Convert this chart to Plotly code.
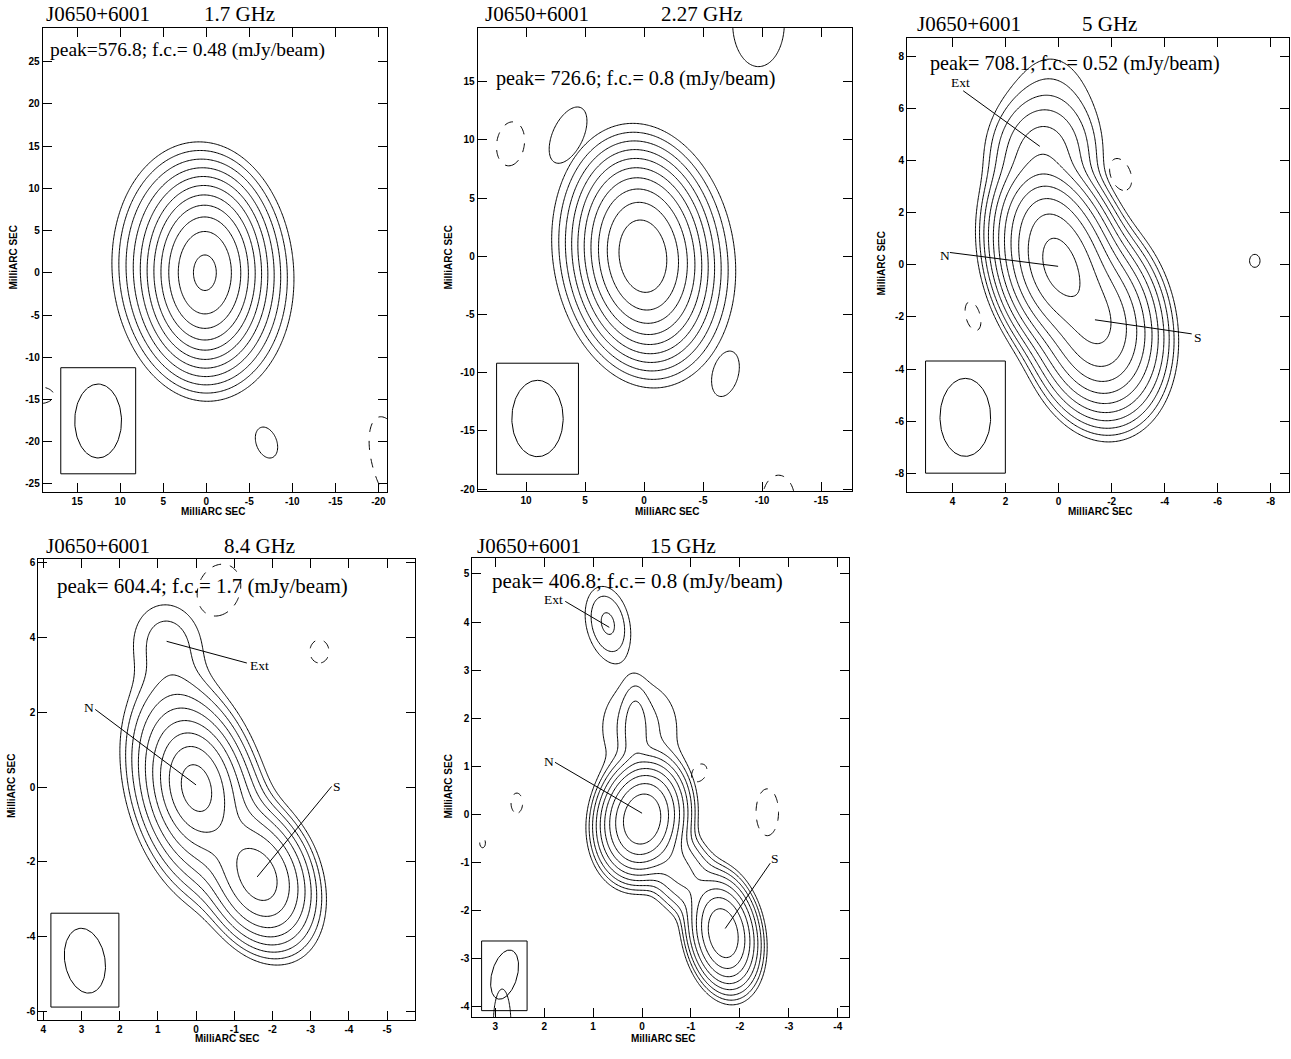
import numpy as np
import plotly.graph_objects as go

W, H = 1291, 1059
SOURCE = "J0650+6001"

# ---------------- observing bands ----------------
freq_labels = ["1.7 GHz", "2.27 GHz", "5 GHz", "8.4 GHz", "15 GHz"]
peak_mjy = [576.8, 726.6, 708.1, 604.4, 406.8]
first_contour_mjy = [0.48, 0.8, 0.52, 1.7, 0.8]

# restoring beams: FWHM major / minor (mas), position angle (deg)
beam_maj = [8.75, 6.56, 2.99, 1.75, 1.05]
beam_min = [5.43, 4.35, 1.91, 1.05, 0.52]
beam_pa = [0, 0, 0, 10, -15]

# ---------------- Gaussian source models ----------------
# RA offset, Dec offset (mas), flux (mJy/beam), FWHM along / across PA (mas), PA (deg)
c17_ra = [0.15, 0.4]
c17_dec = [0.0, 0.2]
c17_flux = [530, 45]
c17_maj = [8.6, 11.8]
c17_min = [5.4, 8.2]
c17_pa = [0, 5]

c22_ra = [0.1, 0.0]
c22_dec = [0.0, 0.1]
c22_flux = [705, 21]
c22_maj = [6.8, 9.9]
c22_min = [4.36, 6.9]
c22_pa = [7, 10]

c50_ra = [0.0, -1.45, 0.45, -0.7, 0.6, 0.3]
c50_dec = [0.05, -2.3, 1.8, -1.1, 4.2, 5.5]
c50_flux = [640, 280, 55, 40, 12, 1.3]
c50_maj = [3.0, 3.0, 2.0, 2.5, 2.4, 4.0]
c50_min = [1.85, 2.0, 1.6, 1.8, 2.0, 2.4]
c50_pa = [15, 10, 10, 35, 0, 0]

c84_ra = [0.0, 0.0, -1.65, -0.8, 0.75, 0.5]
c84_dec = [0.02, -0.1, -2.4, -1.15, 3.85, 2.55]
c84_flux = [400, 180, 300, 50, 4.7, 2.0]
c84_maj = [1.6, 2.6, 1.75, 3.0, 1.7, 1.6]
c84_min = [1.0, 1.42, 1.2, 1.3, 1.4, 1.3]
c84_pa = [10, 15, 20, 30, 10, 20]

c150_ra = [0.0, 0.14, 0.05, -1.66, -0.75, 0.7]
c150_dec = [-0.1, 1.75, 1.8, -2.48, -1.15, 3.97]
c150_flux = [400, 3.5, 2.0, 190, 16, 3.58]
c150_maj = [1.05, 1.2, 1.6, 1.07, 1.3, 1.06]
c150_min = [0.755, 0.35, 1.3, 0.62, 0.7, 0.6]
c150_pa = [-10, 0, 0, 10, 35, 12]

# ---------------- residual (off-source) features ----------------
r17_ra = [-7.0, -21.5, 19.4]
r17_dec = [-20.1, -22.5, -14.5]
r17_flux = [0.55, -0.75, -0.6]
r17_maj = [8.6, 14.0, 6.0]
r17_min = [5.4, 5.5, 3.5]
r17_pa = [20, 15, 90]

r22_ra = [-9.7, 6.45, 11.3, -6.9, -11.4]
r22_dec = [20.0, 10.4, 9.65, -10.1, -21.0]
r22_flux = [1.5, 1.5, -1.5, 1.5, -1.5]
r22_maj = [7.8, 5.46, 4.0, 4.2, 4.6]
r22_min = [4.6, 2.73, 2.5, 2.3, 2.9]
r22_pa = [0, -25, -8, -15, 0]

r50_ra = [-2.34, 3.23, -7.4]
r50_dec = [3.46, -1.97, 0.15]
r50_flux = [-0.65, -0.65, 0.65]
r50_maj = [2.25, 2.0, 0.88]
r50_min = [1.34, 0.95, 0.7]
r50_pa = [20, 15, 0]

r84_ra = [-0.6, -3.23]
r84_dec = [5.27, 3.63]
r84_flux = [-2.2, -2.0]
r84_maj = [2.33, 1.28]
r84_min = [1.8, 1.03]
r84_pa = [-20, 0]

r150_ra = [2.56, 3.26, -1.17, -2.56, 2.86]
r150_dec = [0.23, -0.6, 0.86, 0.04, -4.35]
r150_flux = [-1.0, -1.0, -1.0, -1.0, 1.0]
r150_maj = [0.74, 0.35, 0.7, 1.72, 2.5]
r150_min = [0.42, 0.21, 0.5, 0.81, 0.63]
r150_pa = [0, 0, -30, 0, 0]

models = [
    (c17_ra, c17_dec, c17_flux, c17_maj, c17_min, c17_pa),
    (c22_ra, c22_dec, c22_flux, c22_maj, c22_min, c22_pa),
    (c50_ra, c50_dec, c50_flux, c50_maj, c50_min, c50_pa),
    (c84_ra, c84_dec, c84_flux, c84_maj, c84_min, c84_pa),
    (c150_ra, c150_dec, c150_flux, c150_maj, c150_min, c150_pa),
]
residuals = [
    (r17_ra, r17_dec, r17_flux, r17_maj, r17_min, r17_pa),
    (r22_ra, r22_dec, r22_flux, r22_maj, r22_min, r22_pa),
    (r50_ra, r50_dec, r50_flux, r50_maj, r50_min, r50_pa),
    (r84_ra, r84_dec, r84_flux, r84_maj, r84_min, r84_pa),
    (r150_ra, r150_dec, r150_flux, r150_maj, r150_min, r150_pa),
]

# axis ticks (mas)
x_ticks = [[15, 10, 5, 0, -5, -10, -15, -20], [10, 5, 0, -5, -10, -15],
           [4, 2, 0, -2, -4, -6, -8], [4, 3, 2, 1, 0, -1, -2, -3, -4, -5],
           [3, 2, 1, 0, -1, -2, -3, -4]]
y_ticks = [[25, 20, 15, 10, 5, 0, -5, -10, -15, -20, -25],
           [15, 10, 5, 0, -5, -10, -15, -20],
           [8, 6, 4, 2, 0, -2, -4, -6, -8],
           [6, 4, 2, 0, -2, -4, -6],
           [5, 4, 3, 2, 1, 0, -1, -2, -3, -4]]

# ---------------- page layout ----------------
frames = [(42.7, 387, 26, 492.7), (477.7, 851.7, 25.7, 491.7), (907, 1289, 36, 492),
          (38.3, 415.3, 559.7, 1023), (472.3, 849, 558.3, 1019.7)]
x_ranges = [(19.0, -21.0), (14.1, -17.6), (5.72, -8.69), (4.13, -5.74), (3.47, -4.23)]
y_ranges = [(-26.0, 29.0), (-20.2, 19.64), (-8.7, 8.7), (-6.23, 6.1), (-4.22, 5.34)]
title_pos = [(44, 201.7, 12.5), (483.3, 659.3, 12.2), (915, 1080, 22.5), (44, 221.7, 547), (475, 648, 546.5)]
peak_pos = [(48.3, 48.3), (494, 77.3), (928.3, 61.7), (55, 587), (490, 582)]
peak_font = [19.5, 20.2, 20.2, 21, 21]
xtitle_pos = [(213.3, 511.5), (666.7, 511.5), (1100, 511.5), (226.7, 1041.5), (663.3, 1041.5)]
ytitle_pos = [(13, 256.7), (448, 256.7), (881.7, 263), (11.7, 788), (448.3, 788)]
beam_centre = [(12.56, -17.55), (9.03, -13.94), (3.52, -5.85), (2.91, -4.64), (2.81, -3.34)]
beam_box = [(16.9, 8.2, -11.24, -23.8), (12.5, 5.56, -9.19, -18.73), (5.02, 2.01, -3.69, -7.99),
            (3.8, 2.02, -3.37, -5.88), (3.28, 2.35, -2.64, -4.09)]

# component identifications: panel, label, label pos, line start, line end
ident = [
    (2, "Ext", (3.72, 7.0), (3.6, 6.67), (0.71, 4.54)),
    (2, "N", (4.3, 0.34), (4.1, 0.47), (0.02, -0.06)),
    (2, "S", (-5.27, -2.8), (-5.02, -2.65), (-1.37, -2.11)),
    (3, "Ext", (-1.66, 3.26), (0.77, 3.9), (-1.33, 3.32)),
    (3, "N", (2.79, 2.12), (2.64, 2.08), (0.0, 0.06)),
    (3, "S", (-3.68, 0.03), (-3.55, 0.02), (-1.6, -2.4)),
    (4, "Ext", (1.81, 4.47), (1.57, 4.43), (0.67, 3.89)),
    (4, "N", (1.9, 1.1), (1.78, 1.08), (0.0, 0.02)),
    (4, "S", (-2.72, -0.93), (-2.62, -1.02), (-1.7, -2.38)),
]

SERIF = "Liberation Serif, Times New Roman, serif"
SANS = "Liberation Sans, Arial, sans-serif"
K = 4 * np.log(2)


def px(x):
    return x / W


def py(y):
    return 1 - y / H


def model_image(xg, yg, ra, dec, flux, fmaj, fmin, pa):
    X, Y = np.meshgrid(xg, yg)
    img = np.zeros_like(X)
    for x0, y0, s, a, b, p in zip(ra, dec, flux, fmaj, fmin, pa):
        t = np.radians(p)
        dx, dy = X - x0, Y - y0
        u = dx * np.sin(t) + dy * np.cos(t)
        v = dx * np.cos(t) - dy * np.sin(t)
        img += s * np.exp(-K * ((u / a) ** 2 + (v / b) ** 2))
    return img


def contour_traces(xg, yg, img, fc, nlev, xa, ya):
    """Solid contours at fc*2^k and a dashed contour at -fc."""
    zpos = np.round(np.clip(np.log2(np.maximum(img, 1e-9) / fc), -2, nlev + 2), 3)
    zneg = np.round(np.clip(np.log2(np.maximum(-img, 1e-9) / fc), -2, 3), 3)
    common = dict(x=np.round(xg, 4), y=np.round(yg, 4), xaxis=xa, yaxis=ya, showscale=False,
                  colorscale=[[0, "black"], [1, "black"]], hoverinfo="skip", autocontour=False)
    out = [go.Contour(z=zpos, contours=dict(start=0, end=nlev, size=1, coloring="lines"),
                      line=dict(width=1, smoothing=1), **common)]
    if (img < -fc).any():
        out.append(go.Contour(z=zneg, contours=dict(start=0, end=0.5, size=1, coloring="lines"),
                              line=dict(width=1, dash="dash", smoothing=1), **common))
    return out


fig = go.Figure()
layout = dict(width=W, height=H, margin=dict(l=0, r=0, t=0, b=0),
              paper_bgcolor="white", plot_bgcolor="white", showlegend=False)
annotations = []
shapes = []

for i in range(5):
    n = i + 1
    xa = "x" if n == 1 else f"x{n}"
    ya = "y" if n == 1 else f"y{n}"
    l, r, t, b = frames[i]
    xr, yr = x_ranges[i], y_ranges[i]

    nx = int((r - l) / 1.4)
    ny = int((b - t) / 1.4)
    xg = np.linspace(min(xr), max(xr), nx)
    yg = np.linspace(min(yr), max(yr), ny)
    fc = first_contour_mjy[i]
    nlev = int(np.floor(np.log2(peak_mjy[i] / fc)))

    img = model_image(xg, yg, *models[i])
    img *= peak_mjy[i] / img.max()
    for tr in contour_traces(xg, yg, img, fc, nlev, xa, ya):
        fig.add_trace(tr)
    res = model_image(xg, yg, *residuals[i])
    for tr in contour_traces(xg, yg, res, fc, nlev, xa, ya):
        fig.add_trace(tr)

    # restoring beam
    tt = np.linspace(0, 2 * np.pi, 121)
    pa = np.radians(beam_pa[i])
    u = beam_maj[i] / 2 * np.cos(tt)
    v = beam_min[i] / 2 * np.sin(tt)
    bx = beam_centre[i][0] + u * np.sin(pa) + v * np.cos(pa)
    by = beam_centre[i][1] + u * np.cos(pa) - v * np.sin(pa)
    fig.add_trace(go.Scatter(x=bx, y=by, mode="lines", line=dict(color="black", width=1),
                             xaxis=xa, yaxis=ya, hoverinfo="skip"))
    x0, x1, y0, y1 = beam_box[i]
    shapes.append(dict(type="rect", xref=xa, yref=ya, x0=x0, x1=x1, y0=y0, y1=y1,
                       line=dict(color="black", width=1)))

    axis_common = dict(showgrid=False, zeroline=False, showline=True, linecolor="black",
                       linewidth=1, mirror="ticks", ticks="inside", ticklen=9, tickwidth=1,
                       tickcolor="black", tickfont=dict(family=SANS, size=10, color="black"))
    layout["xaxis" if n == 1 else f"xaxis{n}"] = dict(
        domain=[px(l), px(r)], range=list(xr), anchor=ya, tickmode="array",
        tickvals=x_ticks[i], ticktext=[f"<b>{v}</b>" for v in x_ticks[i]], **axis_common)
    layout["yaxis" if n == 1 else f"yaxis{n}"] = dict(
        domain=[py(b), py(t)], range=list(yr), anchor=xa, tickmode="array",
        tickvals=y_ticks[i], ticktext=[f"<b>{v}</b>" for v in y_ticks[i]], **axis_common)

    # titles
    sx, fx, ty = title_pos[i]
    for txt, xx in ((SOURCE, sx), (freq_labels[i], fx)):
        annotations.append(dict(x=px(xx), y=py(ty), xref="paper", yref="paper", text=txt,
                                showarrow=False, xanchor="left", yanchor="middle",
                                font=dict(family=SERIF, size=21, color="black")))
    sep = "" if i == 0 else " "
    ptxt = f"peak={sep}{peak_mjy[i]}; f.c.= {fc} (mJy/beam)"
    annotations.append(dict(x=px(peak_pos[i][0]), y=py(peak_pos[i][1]), xref="paper", yref="paper",
                            text=ptxt, showarrow=False, xanchor="left", yanchor="middle",
                            font=dict(family=SERIF, size=peak_font[i], color="black")))
    annotations.append(dict(x=px(xtitle_pos[i][0]), y=py(xtitle_pos[i][1]), xref="paper",
                            yref="paper", text="<b>MilliARC SEC</b>", showarrow=False,
                            xanchor="center", yanchor="middle",
                            font=dict(family=SANS, size=10, color="black")))
    annotations.append(dict(x=px(ytitle_pos[i][0]), y=py(ytitle_pos[i][1]), xref="paper",
                            yref="paper", text="<b>MilliARC SEC</b>", showarrow=False,
                            textangle=-90, xanchor="center", yanchor="middle",
                            font=dict(family=SANS, size=10, color="black")))

for (i, lab, tpos, p0, p1) in ident:
    n = i + 1
    xa = f"x{n}"
    ya = f"y{n}"
    fig.add_trace(go.Scatter(x=[p0[0], p1[0]], y=[p0[1], p1[1]], mode="lines",
                             line=dict(color="black", width=1), xaxis=xa, yaxis=ya,
                             hoverinfo="skip"))
    annotations.append(dict(x=tpos[0], y=tpos[1], xref=xa, yref=ya, text=lab, showarrow=False,
                            xanchor="center", yanchor="middle",
                            font=dict(family=SERIF, size=13.5, color="black")))

layout["annotations"] = annotations
layout["shapes"] = shapes
fig.update_layout(**layout)
fig.write_html("out.html")
